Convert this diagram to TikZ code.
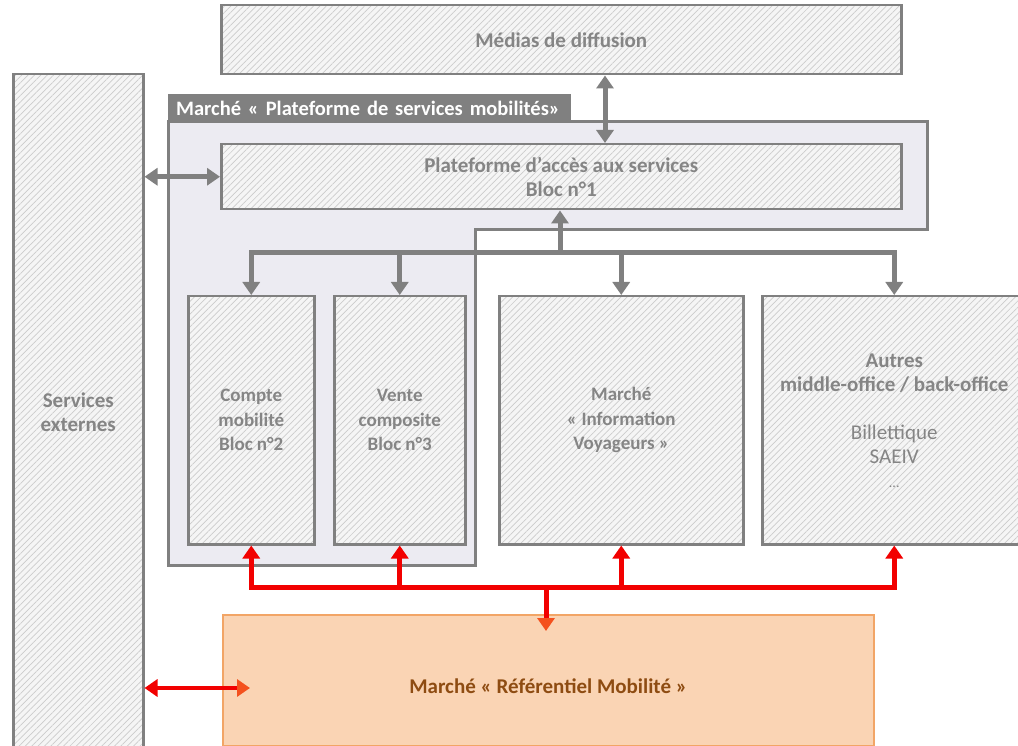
\documentclass[tikz,border=0pt]{standalone}
\usepackage{fontspec}
\setmainfont{Carlito}
\usetikzlibrary{arrows.meta,patterns.meta}
\definecolor{gtext}{HTML}{858585}
\definecolor{gline}{HTML}{808080}
\definecolor{lav}{HTML}{ECEBF2}
\definecolor{orfill}{HTML}{FAD4B4}
\definecolor{orline}{HTML}{F2A566}
\definecolor{brown}{HTML}{8E4C12}
\definecolor{redarr}{HTML}{F20000}
\definecolor{ortip}{HTML}{F4511E}
\tikzset{
  hbox/.style={draw=gline, line width=2.5pt,
    preaction={fill=gray!8},
    preaction={pattern={Lines[angle=45,distance=4.5pt,line width=0.7pt]}, pattern color=gray!40},
    anchor=north west, inner sep=0pt, align=center,
    font=\fontsize{21}{24}\selectfont\bfseries, text=gtext},
  smallfont/.style={font=\fontsize{19}{24.5}\selectfont\bfseries},
  gbus/.style={draw=gline, line width=5pt},
  garr/.style={draw=gline, line width=5pt, -{Triangle[length=13pt,width=17pt]}},
  gdarr/.style={draw=gline, line width=5pt, {Triangle[length=13pt,width=17pt]}-{Triangle[length=13pt,width=17pt]}},
  rbus/.style={draw=redarr, line width=5pt},
  rarr/.style={draw=redarr, line width=5pt, -{Triangle[length=13pt,width=17pt]}},
}
\begin{document}
\begin{tikzpicture}[x=1pt,y=-1pt]
\useasboundingbox (0,0) rectangle (1018,746);
% lavender region
\path[fill=lav, draw=gline, line width=3pt]
  (168,122) -- (927,122) -- (927,230) -- (475,230) -- (475,565) -- (168,565) -- cycle;
\node[fill=gline, anchor=north west, text width=387pt, minimum height=28pt,
  inner xsep=8pt, inner ysep=0pt, align=left,
  text=white, font=\fontsize{20.5}{22}\selectfont\bfseries] (tab) at (168,94)
  {Marché « Plateforme de services mobilités»};
% boxes
\node[hbox, minimum width=680pt, minimum height=69pt] (medias) at (220,4) {Médias de diffusion};
\node[hbox, minimum width=130pt, minimum height=675pt] (serv) at (12,73) {Services\\externes};
\node[hbox, minimum width=680pt, minimum height=65pt] (plat) at (220,143)
  {Plateforme d’accès aux services\\Bloc n°1};
\node[hbox, smallfont, minimum width=126pt, minimum height=248pt] (compte) at (187,295)
  {Compte\\mobilité\\Bloc n°2};
\node[hbox, smallfont, minimum width=131pt, minimum height=248pt] (vente) at (333,295)
  {Vente\\composite\\Bloc n°3};
\node[hbox, smallfont, minimum width=244pt, minimum height=248pt] (info) at (498,295)
  {Marché\\« Information\\Voyageurs »};
\node[hbox, minimum width=264pt, minimum height=248pt] (autres) at (761,295)
  {Autres\\middle-office / back-office\\[24pt]
   {\mdseries Billettique}\\{\mdseries SAEIV}\\{\mdseries\fontsize{14}{16}\selectfont ...}};
\node[draw=orline, line width=1.5pt, fill=orfill, anchor=north west, inner sep=0pt,
  minimum width=651pt, minimum height=131pt, text=brown,
  font=\fontsize{21}{24}\selectfont\bfseries] (ref) at (222,614)
  {\raisebox{-13pt}[0pt][0pt]{Marché « Référentiel Mobilité »}};
% grey connectors
\coordinate (mp) at (605,0);
\draw[gdarr] (mp |- medias.south) -- (mp |- plat.north);
\draw[gdarr] (serv.east |- plat.west) -- (plat.west);
\coordinate (gb) at (560,253);
\draw[gbus, line cap=rect] (gb -| compte) -- (gb -| autres);
\draw[garr] (gb) -- (gb |- plat.south);
\draw[garr] (gb -| compte) -- (compte.north);
\draw[garr] (gb -| vente) -- (vente.north);
\draw[garr] (gb -| info) -- (info.north);
\draw[garr] (gb -| autres) -- (autres.north);
% red connectors
\coordinate (rb) at (546,587);
\coordinate (rbt) at (546,631);
\draw[rbus, line cap=rect] (rb -| compte) -- (rb -| autres);
\draw[rarr] (rb -| compte) -- (compte.south);
\draw[rarr] (rb -| vente) -- (vente.south);
\draw[rarr] (rb -| info) -- (info.south);
\draw[rarr] (rb -| autres) -- (autres.south);
\draw[draw=redarr, line width=5pt, -{Triangle[length=13pt,width=17pt,color=ortip]}] (rb) -- (rbt);
\coordinate (rl) at (250,688);
\draw[draw=redarr, line width=4pt,
  {Triangle[length=13pt,width=17pt]}-{Triangle[length=13pt,width=17pt,color=ortip]}]
  (serv.east |- rl) -- (rl);
\end{tikzpicture}
\end{document}
